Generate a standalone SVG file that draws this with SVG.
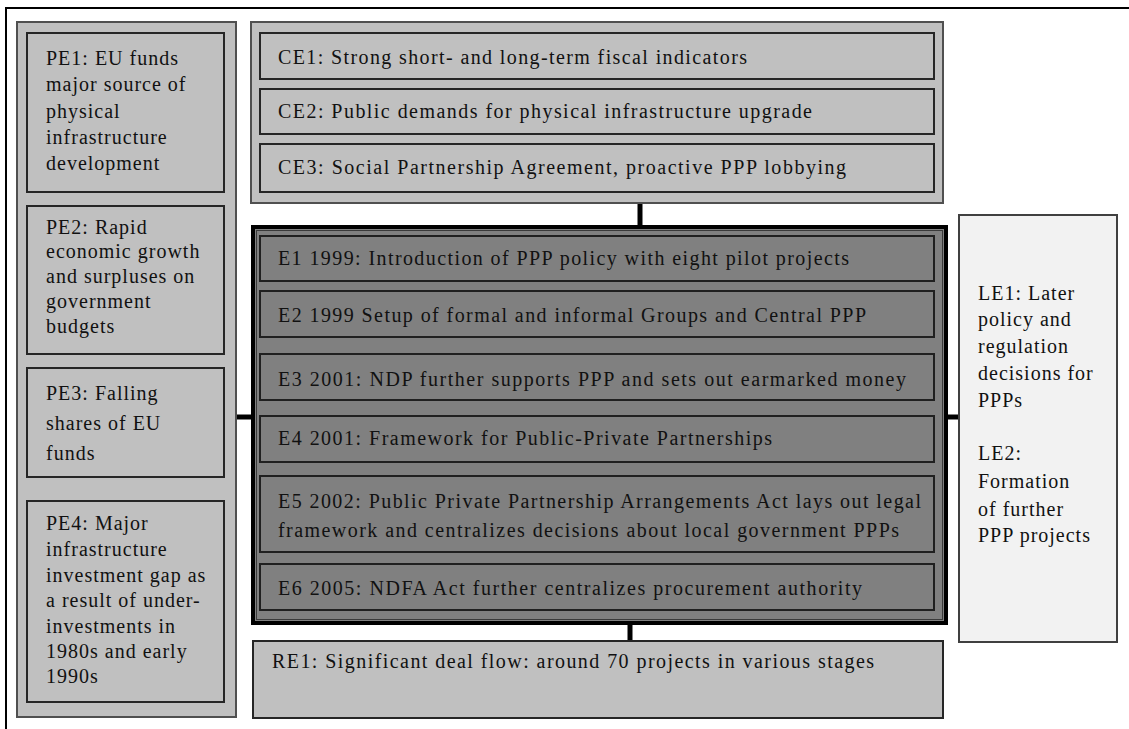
<svg xmlns="http://www.w3.org/2000/svg" width="1129" height="729" viewBox="0 0 1129 729">
<style>
text{font-family:"Liberation Serif","Times New Roman",serif;font-size:20px;fill:#111;letter-spacing:1px}
.cont{fill:#c0c0c0;stroke:#505050;stroke-width:2}
.box{fill:#c0c0c0;stroke:#262626;stroke-width:2}
.ebox{fill:#808080;stroke:#202020;stroke-width:2}
.le{fill:#f2f2f2;stroke:#404040;stroke-width:2}
.conn{stroke:#000;stroke-width:5;fill:none}
</style>
<rect x="0" y="0" width="1129" height="729" fill="#fff"/>
<path d="M6,729 V8 H1129" fill="none" stroke="#000" stroke-width="2"/>
<g id="connectors">
<line class="conn" x1="640" y1="203" x2="640" y2="228"/>
<line class="conn" x1="236" y1="417" x2="254" y2="417"/>
<line class="conn" x1="945" y1="417" x2="959" y2="417"/>
<line class="conn" x1="630" y1="622" x2="630" y2="641"/>
</g>
<g id="left-column">
<rect class="cont" x="17" y="22" width="219" height="695"/>
</g>
<g id="PE1">
<rect class="box" x="27" y="33" width="197" height="159"/>
<text x="46" y="65">PE1:  EU funds</text>
<text x="46" y="91">major source of</text>
<text x="46" y="118">physical</text>
<text x="46" y="144">infrastructure</text>
<text x="46" y="170">development</text>
</g>
<g id="PE2">
<rect class="box" x="27" y="206" width="197" height="148"/>
<text x="46" y="234">PE2: Rapid</text>
<text x="46" y="258">economic growth</text>
<text x="46" y="283">and surpluses on</text>
<text x="46" y="308">government</text>
<text x="46" y="333">budgets</text>
</g>
<g id="PE3">
<rect class="box" x="27" y="368" width="197" height="109"/>
<text x="46" y="400">PE3:  Falling</text>
<text x="46" y="430">shares of EU</text>
<text x="46" y="460">funds</text>
</g>
<g id="PE4">
<rect class="box" x="27" y="501" width="197" height="201"/>
<text x="46" y="530">PE4:  Major</text>
<text x="46" y="556">infrastructure</text>
<text x="46" y="582">investment gap as</text>
<text x="46" y="607">a result of under-</text>
<text x="46" y="633">investments in</text>
<text x="46" y="658">1980s  and early</text>
<text x="46" y="683">1990s</text>
</g>
<g id="CE-group">
<rect class="cont" x="251" y="22" width="692" height="181"/>
</g>
<g id="CE1">
<rect class="box" x="260" y="33" width="674" height="46"/>
<text x="278" y="64" textLength="470">CE1:  Strong short- and long-term  fiscal indicators</text>
</g>
<g id="CE2">
<rect class="box" x="260" y="89" width="674" height="45"/>
<text x="278" y="118" textLength="535">CE2:  Public  demands for physical infrastructure upgrade</text>
</g>
<g id="CE3">
<rect class="box" x="260" y="144" width="674" height="48"/>
<text x="278" y="174" textLength="569">CE3:  Social Partnership  Agreement, proactive PPP  lobbying</text>
</g>
<g id="E-group">
<rect x="253" y="227" width="693" height="396" fill="#808080" stroke="#000" stroke-width="4"/>
<rect x="256.5" y="230.5" width="686" height="389" fill="none" stroke="#3a3a3a" stroke-width="1"/>
</g>
<g id="E1">
<rect class="ebox" x="260" y="236" width="674" height="45"/>
<text x="278" y="265" textLength="572">E1  1999:  Introduction of PPP  policy with eight pilot projects</text>
</g>
<g id="E2">
<rect class="ebox" x="260" y="291" width="674" height="46"/>
<text x="278" y="322" textLength="589">E2  1999  Setup of formal  and informal Groups  and Central PPP</text>
</g>
<g id="E3">
<rect class="ebox" x="260" y="354" width="674" height="46"/>
<text x="278" y="386" textLength="629">E3 2001:  NDP  further supports PPP and sets out earmarked  money</text>
</g>
<g id="E4">
<rect class="ebox" x="260" y="416" width="674" height="46"/>
<text x="278" y="445" textLength="495">E4 2001:  Framework  for Public-Private Partnerships</text>
</g>
<g id="E5">
<rect class="ebox" x="260" y="476" width="674" height="76"/>
<text x="278" y="508" textLength="644">E5 2002:  Public Private Partnership Arrangements Act lays out legal</text>
<text x="278" y="537" textLength="622">framework  and centralizes  decisions about local government PPPs</text>
</g>
<g id="E6">
<rect class="ebox" x="260" y="564" width="674" height="46"/>
<text x="278" y="595" textLength="585">E6 2005:  NDFA  Act further centralizes procurement  authority</text>
</g>
<g id="RE1">
<rect class="box" x="253" y="641" width="690" height="77"/>
<text x="272" y="668" textLength="603">RE1:  Significant  deal flow:  around 70  projects in various stages</text>
</g>
<g id="LE">
<rect class="le" x="959" y="215" width="158" height="427"/>
<text x="978" y="300">LE1:  Later</text>
<text x="978" y="326">policy and</text>
<text x="978" y="353">regulation</text>
<text x="978" y="380">decisions for</text>
<text x="978" y="407">PPPs</text>
<text x="978" y="460">LE2:</text>
<text x="978" y="488">Formation</text>
<text x="978" y="516">of further</text>
<text x="978" y="542">PPP  projects</text>
</g>
</svg>
